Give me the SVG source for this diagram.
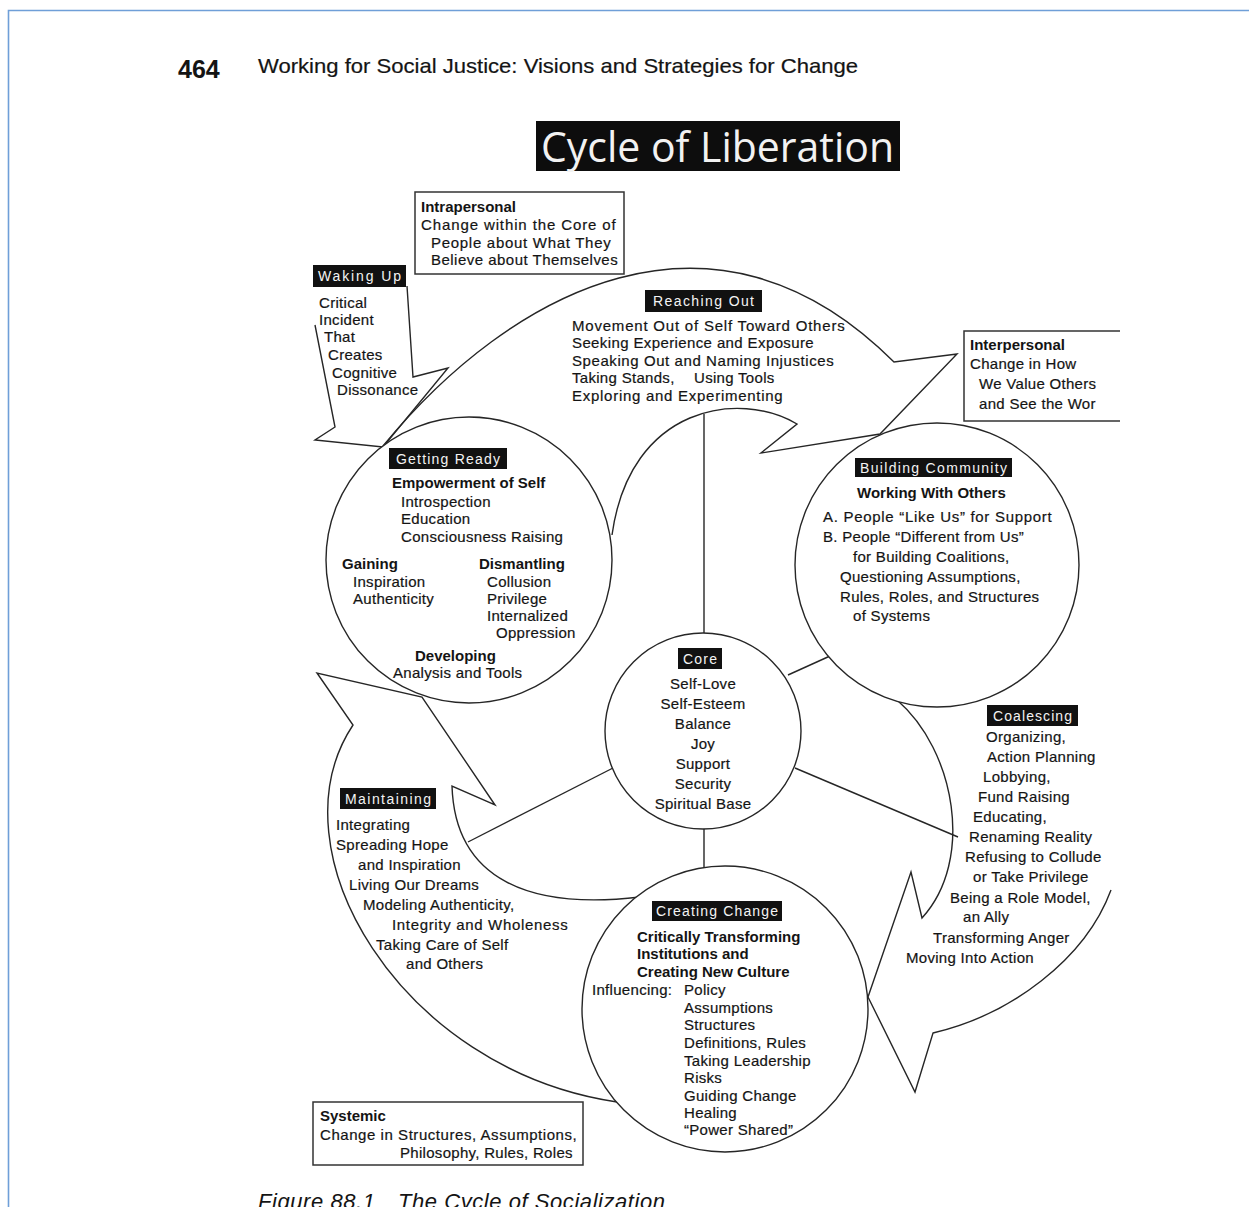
<svg xmlns="http://www.w3.org/2000/svg" width="1249" height="1207" viewBox="0 0 1249 1207">
<style>
.t{font-family:"Liberation Sans",Arial,sans-serif;font-size:15px;letter-spacing:0.3px;fill:#141414;stroke:#141414;stroke-width:0.2}
.b{font-weight:bold;letter-spacing:0;stroke-width:0}
.c{text-anchor:middle}
.lbl{font-family:"Liberation Sans",Arial,sans-serif;font-size:14px;fill:#f4f4f4}
.lb{fill:#111}
.ln{fill:none;stroke:#262626;stroke-width:1.4;stroke-linejoin:miter}
.circ{fill:#fff;stroke:#262626;stroke-width:1.4}
.box{fill:#fff;stroke:#333;stroke-width:1.5}
</style>
<rect width="1249" height="1207" fill="#fff"/>
<g id="frame">
<path d="M8.5,1207 V10.5 H1249" fill="none" stroke="#6f9fd8" stroke-width="1.6"/>
</g>
<g id="header">
<text x="178" y="78" class="t b" style="font-size:25px">464</text>
<text x="258" y="73" class="t" style="font-size:21px;letter-spacing:0" textLength="600" lengthAdjust="spacingAndGlyphs">Working for Social Justice: Visions and Strategies for Change</text>
</g>
<g id="title">
<rect x="536" y="121" width="364" height="50" fill="#0d0d0d"/>
<text x="541" y="162" style="font-family:'Open Sans','Noto Sans',sans-serif;font-size:42px;fill:#f2f2f2" textLength="353" lengthAdjust="spacingAndGlyphs">Cycle of Liberation</text>
</g>
<g id="cycle-arrows">
<path id="arrow-reaching-out" class="ln" d="M383,446 C511,290 714,182 894,362 L957,354 L880,434 L761,453 L797,424 C740,390 630,405 612,535"/>
<path id="arrow-coalescing" class="ln" d="M897,700 C955,750 975,860 922,918 L911,872 L868,997 L915,1092 L933,1033 C1010,1015 1085,960 1111,890"/>
<path id="arrow-maintaining" class="ln" d="M640,897 C530,910 455,880 452,786 L495,805 L422,697 L317,673 L353,725 C270,850 400,1070 617,1102"/>
<path id="arrow-waking-up" class="ln" d="M407,286 L413,377 L448,368 L383,447 L315,440 L335,427 L315,325"/>
</g>
<g id="connectors">
<line class="ln" x1="704" y1="414" x2="704" y2="633"/>
<line class="ln" x1="704" y1="829" x2="704" y2="868"/>
<line class="ln" x1="788" y1="675" x2="830" y2="656"/>
<line class="ln" x1="795" y1="768" x2="958" y2="837"/>
<line class="ln" x1="613" y1="768" x2="468" y2="842"/>
</g>
<g id="waking-up">
<rect class="lb" x="313" y="265" width="93" height="22"/>
<text class="lbl" x="318" y="281" textLength="83">Waking Up</text>
<text class="t" x="319" y="308">Critical</text>
<text class="t" x="319" y="325">Incident</text>
<text class="t" x="324" y="342">That</text>
<text class="t" x="328" y="360">Creates</text>
<text class="t" x="332" y="378">Cognitive</text>
<text class="t" x="337" y="395">Dissonance</text>
</g>
<g id="intrapersonal">
<rect class="box" x="415" y="192" width="209" height="82"/>
<text class="t b" x="421" y="212">Intrapersonal</text>
<text class="t" x="421" y="230" textLength="195">Change within the Core of</text>
<text class="t" x="431" y="248" textLength="180">People about What They</text>
<text class="t" x="431" y="265" textLength="187">Believe about Themselves</text>
</g>
<g id="interpersonal">
<path d="M1120,331 H964 V421 H1120" fill="#fff" stroke="#333" stroke-width="1.5"/>
<text class="t b" x="970" y="350">Interpersonal</text>
<text class="t" x="970" y="369">Change in How</text>
<text class="t" x="979" y="389">We Value Others</text>
<text class="t" x="979" y="409">and See the Wor</text>
</g>
<g id="reaching-out">
<rect class="lb" x="645" y="290" width="117" height="22"/>
<text class="lbl" x="653" y="306" textLength="101">Reaching Out</text>
<text class="t" x="572" y="331" textLength="273">Movement Out of Self Toward Others</text>
<text class="t" x="572" y="348" textLength="242">Seeking Experience and Exposure</text>
<text class="t" x="572" y="366" textLength="262">Speaking Out and Naming Injustices</text>
<text class="t" x="572" y="383">Taking Stands,<tspan x="694">Using Tools</tspan></text>
<text class="t" x="572" y="401" textLength="211">Exploring and Experimenting</text>
</g>
<g id="getting-ready">
<circle class="circ" cx="469" cy="560" r="143"/>
<rect class="lb" x="389" y="448" width="118" height="21"/>
<text class="lbl" x="396" y="464" textLength="104">Getting Ready</text>
<text class="t b" x="392" y="488">Empowerment of Self</text>
<text class="t" x="401" y="507">Introspection</text>
<text class="t" x="401" y="524">Education</text>
<text class="t" x="401" y="542">Consciousness Raising</text>
<text class="t b" x="342" y="569">Gaining</text>
<text class="t" x="353" y="587">Inspiration</text>
<text class="t" x="353" y="604">Authenticity</text>
<text class="t b" x="479" y="569">Dismantling</text>
<text class="t" x="487" y="587">Collusion</text>
<text class="t" x="487" y="604">Privilege</text>
<text class="t" x="487" y="621">Internalized</text>
<text class="t" x="496" y="638">Oppression</text>
<text class="t b" x="415" y="661">Developing</text>
<text class="t" x="393" y="678">Analysis and Tools</text>
</g>
<g id="building-community">
<circle class="circ" cx="937" cy="565" r="142"/>
<rect class="lb" x="855" y="458" width="157" height="19"/>
<text class="lbl" x="860" y="473" textLength="147">Building Community</text>
<text class="t b" x="857" y="498">Working With Others</text>
<text class="t" x="823" y="522" textLength="229">A. People “Like Us” for Support</text>
<text class="t" x="823" y="542">B. People “Different from Us”</text>
<text class="t" x="853" y="562">for Building Coalitions,</text>
<text class="t" x="840" y="582">Questioning Assumptions,</text>
<text class="t" x="840" y="602">Rules, Roles, and Structures</text>
<text class="t" x="853" y="621">of Systems</text>
</g>
<g id="core">
<circle class="circ" cx="703" cy="731" r="98"/>
<rect class="lb" x="678" y="648" width="44" height="21"/>
<text class="lbl" x="683" y="664" textLength="34">Core</text>
<text class="t c" x="703" y="689">Self-Love</text>
<text class="t c" x="703" y="709">Self-Esteem</text>
<text class="t c" x="703" y="729">Balance</text>
<text class="t c" x="703" y="749">Joy</text>
<text class="t c" x="703" y="769">Support</text>
<text class="t c" x="703" y="789">Security</text>
<text class="t c" x="703" y="809">Spiritual Base</text>
</g>
<g id="coalescing">
<rect class="lb" x="987" y="705" width="91" height="21"/>
<text class="lbl" x="993" y="721" textLength="79">Coalescing</text>
<text class="t" x="986" y="742">Organizing,</text>
<text class="t" x="987" y="762">Action Planning</text>
<text class="t" x="983" y="782">Lobbying,</text>
<text class="t" x="978" y="802">Fund Raising</text>
<text class="t" x="973" y="822">Educating,</text>
<text class="t" x="969" y="842">Renaming Reality</text>
<text class="t" x="965" y="862">Refusing to Collude</text>
<text class="t" x="973" y="882">or Take Privilege</text>
<text class="t" x="950" y="903">Being a Role Model,</text>
<text class="t" x="963" y="922">an Ally</text>
<text class="t" x="933" y="943">Transforming Anger</text>
<text class="t" x="906" y="963">Moving Into Action</text>
</g>
<g id="maintaining">
<rect class="lb" x="340" y="788" width="96" height="21"/>
<text class="lbl" x="345" y="804" textLength="86">Maintaining</text>
<text class="t" x="336" y="830">Integrating</text>
<text class="t" x="336" y="850">Spreading Hope</text>
<text class="t" x="358" y="870">and Inspiration</text>
<text class="t" x="349" y="890">Living Our Dreams</text>
<text class="t" x="363" y="910">Modeling Authenticity,</text>
<text class="t" x="392" y="930" textLength="176">Integrity and Wholeness</text>
<text class="t" x="376" y="950">Taking Care of Self</text>
<text class="t" x="406" y="969">and Others</text>
</g>
<g id="creating-change">
<circle class="circ" cx="725" cy="1009" r="143"/>
<rect class="lb" x="652" y="901" width="130" height="20"/>
<text class="lbl" x="656" y="916" textLength="122">Creating Change</text>
<text class="t b" x="637" y="942">Critically Transforming</text>
<text class="t b" x="637" y="959">Institutions and</text>
<text class="t b" x="637" y="977">Creating New Culture</text>
<text class="t" x="592" y="995">Influencing:<tspan x="684">Policy</tspan></text>
<text class="t" x="684" y="1013">Assumptions</text>
<text class="t" x="684" y="1030">Structures</text>
<text class="t" x="684" y="1048">Definitions, Rules</text>
<text class="t" x="684" y="1066">Taking Leadership</text>
<text class="t" x="684" y="1083">Risks</text>
<text class="t" x="684" y="1101">Guiding Change</text>
<text class="t" x="684" y="1118">Healing</text>
<text class="t" x="684" y="1135">“Power Shared”</text>
</g>
<g id="systemic">
<rect class="box" x="313" y="1102" width="270" height="63"/>
<text class="t b" x="320" y="1121">Systemic</text>
<text class="t" x="320" y="1140" textLength="257">Change in Structures, Assumptions,</text>
<text class="t" x="400" y="1158">Philosophy, Rules, Roles</text>
</g>
<g id="caption">
<text class="t" x="258" y="1209" style="font-size:22px;font-style:italic;letter-spacing:0;stroke-width:0" textLength="117">Figure 88.1</text>
<text class="t" x="398" y="1209" style="font-size:22px;font-style:italic;letter-spacing:0;stroke-width:0" textLength="267">The Cycle of Socialization</text>
</g>
</svg>
